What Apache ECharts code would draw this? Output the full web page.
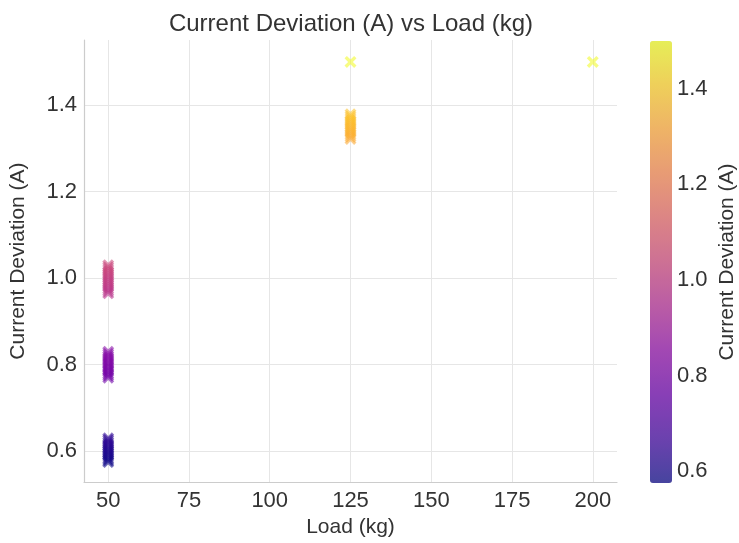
<!DOCTYPE html>
<html>
<head>
<meta charset="utf-8">
<script src="https://cdn.jsdelivr.net/npm/echarts@6/dist/echarts.min.js"></script>
<style>html,body{margin:0;padding:0;background:#fff}#c{width:739px;height:543px}</style>
</head>
<body>
<div id="c"></div>
<script>
// ---- data ----
const titleText = 'Current Deviation (A) vs Load (kg)';
const xLabel = 'Load (kg)';
const yLabel = 'Current Deviation (A)';
const xTicks = [50, 75, 100, 125, 150, 175, 200];
const yTicks = [0.6, 0.8, 1.0, 1.2, 1.4];
const cbTicks = [0.6, 0.8, 1.0, 1.2, 1.4];

const loads50a = [50, 50, 50, 50, 50, 50, 50, 50, 50, 50, 50, 50, 50, 50];
const dev50a   = [0.575, 0.579, 0.583, 0.588, 0.592, 0.596, 0.600, 0.604, 0.608, 0.613, 0.617, 0.621, 0.626, 0.630];
const loads50b = [50, 50, 50, 50, 50, 50, 50, 50, 50, 50, 50, 50, 50, 50];
const dev50b   = [0.770, 0.775, 0.779, 0.784, 0.788, 0.793, 0.797, 0.802, 0.806, 0.811, 0.816, 0.820, 0.825, 0.830];
const loads50c = [50, 50, 50, 50, 50, 50, 50, 50, 50, 50, 50, 50, 50, 50];
const dev50c   = [0.965, 0.970, 0.975, 0.980, 0.985, 0.990, 0.995, 1.000, 1.005, 1.010, 1.015, 1.020, 1.025, 1.030];
const loads125 = [125, 125, 125, 125, 125, 125, 125, 125, 125, 125, 125, 125, 125];
const dev125   = [1.322, 1.327, 1.332, 1.337, 1.341, 1.346, 1.350, 1.355, 1.360, 1.364, 1.369, 1.374, 1.379];
const loadsTop = [125, 200];
const devTop   = [1.500, 1.500];

const plasma = ['#0d0887','#41049d','#6a00a8','#8f0da4','#b12a90','#cc4778','#e16462','#f2844b','#fca636','#fcce25','#f0f921'];
const vmin = 0.575, vmax = 1.5;

// ---- build ----
function rgba(hex, a) {
  const n = parseInt(hex.slice(1), 16);
  return 'rgba(' + (n >> 16) + ',' + ((n >> 8) & 255) + ',' + (n & 255) + ',' + a + ')';
}
const colors = plasma.map(c => rgba(c, 0.7));
const pts = [];
[[loads50a, dev50a], [loads50b, dev50b], [loads50c, dev50c], [loads125, dev125], [loadsTop, devTop]].forEach(([xs, ys]) => {
  xs.forEach((x, i) => pts.push([x, ys[i]]));
});
const xMin = 42.5, xMax = 207.5;
const yMin = 0.5287, yMax = 1.5507;
const font = '"Liberation Sans", Arial, sans-serif';
const txt = '#333';
const xMark = 'path://M0,2L2,0L5,3L8,0L10,2L7,5L10,8L8,10L5,7L2,10L0,8L3,5Z';

const chart = echarts.init(document.getElementById('c'));
chart.setOption({
  animation: false,
  backgroundColor: '#fff',
  textStyle: { fontFamily: font },
  title: {
    text: titleText, left: 346, top: 7, textAlign: 'center',
    textStyle: { fontFamily: font, fontSize: 24, fontWeight: 'normal', color: txt }
  },
  grid: [
    { left: 82, top: 40, width: 535, height: 443, containLabel: false },
    { left: 650, top: 41, width: 22, height: 442, containLabel: false }
  ],
  xAxis: [
    {
      type: 'value', gridIndex: 0, min: xMin, max: xMax,
      name: xLabel, nameLocation: 'middle', nameGap: 30,
      nameTextStyle: { fontFamily: font, fontSize: 21, color: txt },
      axisLine: { show: true, lineStyle: { color: '#cccccc', width: 1.2 } },
      axisTick: { show: false, customValues: xTicks },
      axisLabel: { customValues: xTicks, fontFamily: font, fontSize: 22, color: txt, margin: 8 },
      splitLine: { show: true, lineStyle: { color: '#e6e6e6', width: 1 } }
    },
    { type: 'value', gridIndex: 1, min: 0, max: 1, show: false }
  ],
  yAxis: [
    {
      type: 'value', gridIndex: 0, min: yMin, max: yMax,
      name: yLabel, nameLocation: 'middle', nameGap: 55, nameRotate: 90,
      nameTextStyle: { fontFamily: font, fontSize: 21, color: txt },
      axisLine: { show: true, lineStyle: { color: '#cccccc', width: 1.2 } },
      axisTick: { show: false, customValues: yTicks },
      axisLabel: { customValues: yTicks, fontFamily: font, fontSize: 22, color: txt, margin: 7,
        formatter: v => v.toFixed(1) },
      splitLine: { show: true, lineStyle: { color: '#e6e6e6', width: 1 } }
    },
    {
      type: 'value', gridIndex: 1, position: 'right', min: vmin, max: vmax,
      name: yLabel, nameLocation: 'middle', nameGap: 46, nameRotate: 90,
      nameTextStyle: { fontFamily: font, fontSize: 21, color: txt },
      axisLine: { show: false },
      axisTick: { show: false, customValues: cbTicks },
      axisLabel: { customValues: cbTicks, fontFamily: font, fontSize: 22, color: txt, margin: 6,
        formatter: v => v.toFixed(1) },
      splitLine: { show: false }
    }
  ],
  visualMap: {
    type: 'continuous', min: vmin, max: vmax, dimension: 1, seriesIndex: 0,
    left: 650, top: 41, itemWidth: 22, itemHeight: 442, padding: 0,
    calculable: false, hoverLink: false, text: null, showLabel: false,
    inRange: { color: colors }
  },
  series: [{
    type: 'scatter', xAxisIndex: 0, yAxisIndex: 0,
    symbol: xMark, symbolSize: 12,
    data: pts
  }]
});
</script>
</body>
</html>
